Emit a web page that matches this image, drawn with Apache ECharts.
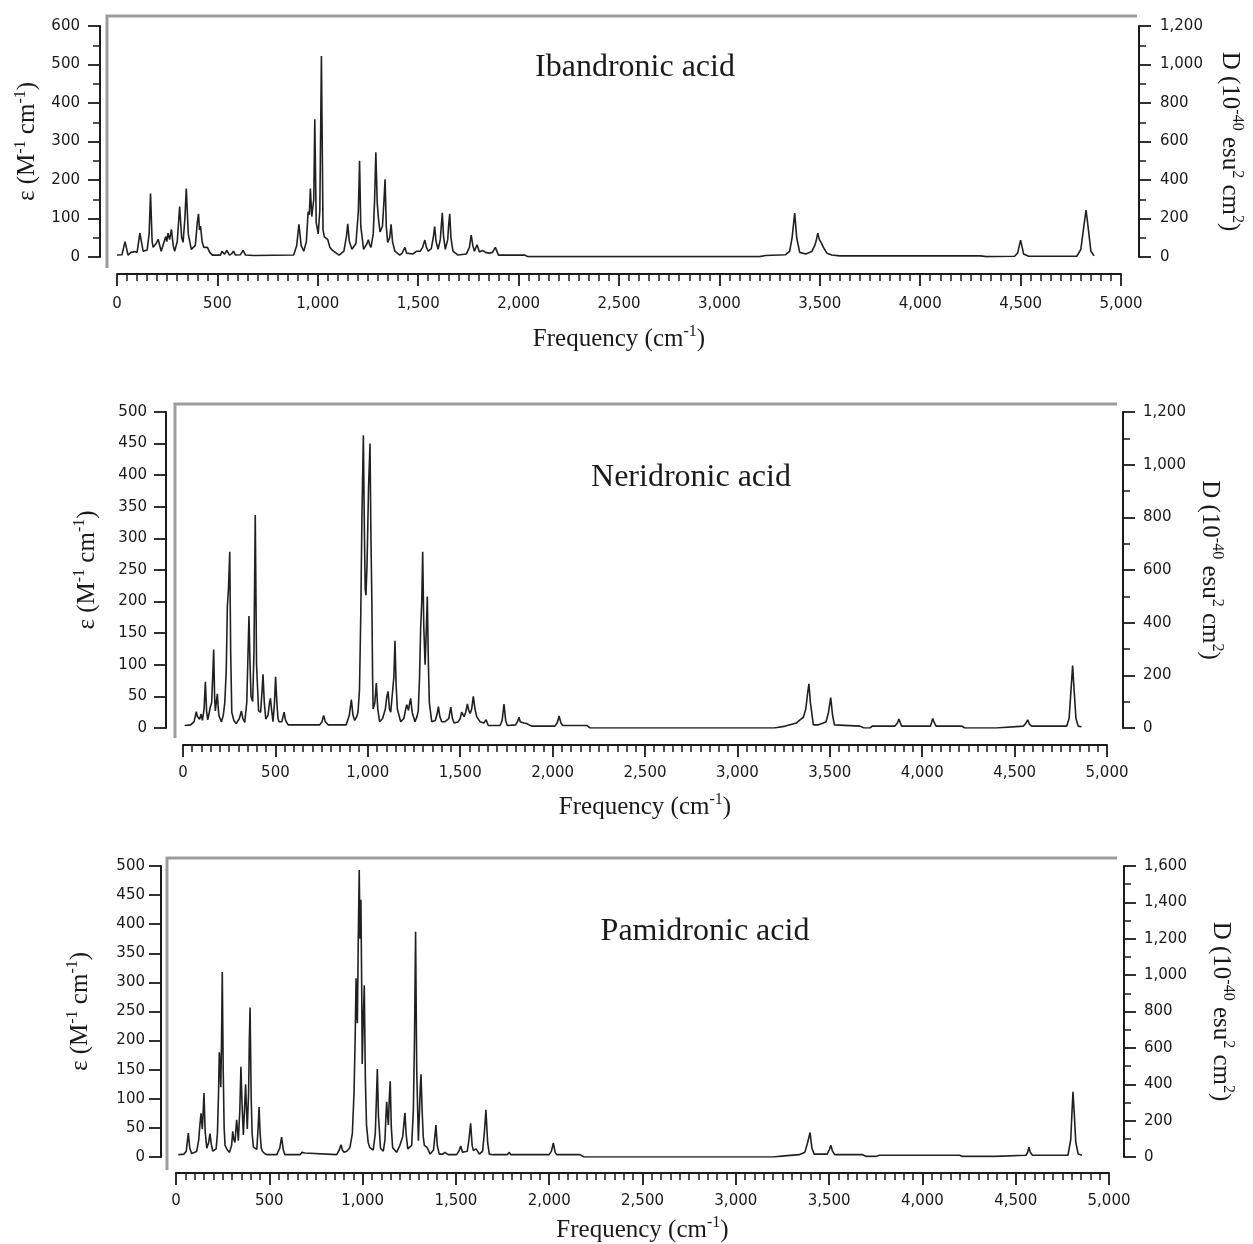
<!DOCTYPE html>
<html>
<head>
<meta charset="utf-8">
<title>IR spectra</title>
<script src="https://cdn.jsdelivr.net/npm/echarts@6/dist/echarts.min.js"></script>
<style>
  html, body { margin: 0; padding: 0; background: #fff; }
  #main { width: 1253px; height: 1244px; }
</style>
</head>
<body>
<div id="main"></div>
<script>
// spectra: [frequency cm-1, epsilon]
const ibandronic = [[0,5],[25,6],[40,40],[55,5],[70,12],[78,9],[88,14],[100,12],[114,62],[130,15],[150,18],[160,60],[167,165],[175,40],[180,25],[195,35],[205,46],[220,15],[235,40],[243,53],[248,40],[254,62],[262,45],[271,72],[280,30],[287,15],[300,40],[312,131],[322,50],[329,38],[338,100],[345,178],[355,60],[370,20],[390,30],[400,90],[406,112],[411,70],[416,80],[424,40],[432,25],[450,25],[462,12],[475,5],[515,5],[523,15],[535,7],[547,17],[560,5],[570,8],[580,15],[590,5],[615,6],[628,17],[640,5],[680,4],[880,5],[895,30],[906,85],[917,30],[930,15],[943,40],[952,118],[958,110],[963,178],[970,105],[975,100],[980,150],[985,358],[992,90],[1002,60],[1010,120],[1018,522],[1026,70],[1033,52],[1040,50],[1050,45],[1060,25],[1073,17],[1106,5],[1130,15],[1143,55],[1149,86],[1157,40],[1170,20],[1190,35],[1202,120],[1208,250],[1214,80],[1228,20],[1245,35],[1252,45],[1258,32],[1265,25],[1276,60],[1283,150],[1289,272],[1296,140],[1302,100],[1310,65],[1322,80],[1330,150],[1335,202],[1341,80],[1348,38],[1358,50],[1365,85],[1372,40],[1384,15],[1408,5],[1420,10],[1434,25],[1442,10],[1450,5],[1475,8],[1492,15],[1500,12],[1510,15],[1522,25],[1533,44],[1541,25],[1550,15],[1565,22],[1575,50],[1582,79],[1589,40],[1599,20],[1610,45],[1615,80],[1620,115],[1626,55],[1635,20],[1647,45],[1652,85],[1657,112],[1663,50],[1673,15],[1698,5],[1740,8],[1755,25],[1764,57],[1772,30],[1780,15],[1793,32],[1805,13],[1821,17],[1835,12],[1854,10],[1870,12],[1884,25],[1900,5],[2030,5],[2045,1],[3200,1],[3230,4],[3330,6],[3350,15],[3362,50],[3375,114],[3385,50],[3400,12],[3430,8],[3460,14],[3475,30],[3482,42],[3490,62],[3498,45],[3508,36],[3518,25],[3535,10],[3560,5],[3600,3],[4300,3],[4330,1],[4470,2],[4485,10],[4500,44],[4515,8],[4540,2],[4780,2],[4800,20],[4815,80],[4826,122],[4838,70],[4850,15],[4866,3]];

const neridronic = [[9,4],[42,5],[60,10],[72,26],[78,18],[84,18],[90,14],[98,22],[105,12],[114,30],[121,73],[128,25],[134,13],[147,32],[155,40],[162,90],[166,124],[171,50],[175,27],[180,40],[186,54],[190,35],[194,20],[208,10],[218,20],[226,40],[234,90],[240,192],[246,220],[253,279],[258,120],[264,25],[275,12],[288,7],[305,15],[316,27],[324,15],[334,9],[345,40],[352,120],[357,177],[362,110],[368,50],[377,42],[384,120],[391,337],[398,100],[409,27],[420,25],[428,60],[433,85],[440,40],[448,14],[460,20],[468,40],[473,47],[479,30],[487,10],[495,40],[501,81],[508,40],[514,15],[520,10],[535,10],[547,25],[555,12],[569,5],[740,5],[752,10],[761,20],[770,10],[785,5],[883,5],[900,20],[911,45],[920,20],[929,12],[940,18],[947,25],[955,60],[962,180],[968,330],[976,463],[982,300],[986,220],[990,210],[996,260],[1004,380],[1012,450],[1017,300],[1022,200],[1026,80],[1029,30],[1038,40],[1046,71],[1054,30],[1064,10],[1080,15],[1095,30],[1103,50],[1110,58],[1117,30],[1124,25],[1135,61],[1141,80],[1147,138],[1153,70],[1160,30],[1178,10],[1195,15],[1205,30],[1211,37],[1220,28],[1227,40],[1232,47],[1240,25],[1255,10],[1266,18],[1273,27],[1280,80],[1286,158],[1292,200],[1297,279],[1303,160],[1310,100],[1316,150],[1322,208],[1328,100],[1333,40],[1346,10],[1365,12],[1375,22],[1382,34],[1390,18],[1400,10],[1418,10],[1438,15],[1449,33],[1458,15],[1467,8],[1490,10],[1500,15],[1508,25],[1514,22],[1521,18],[1530,25],[1539,38],[1546,28],[1554,23],[1562,30],[1571,50],[1580,30],[1589,18],[1607,10],[1628,8],[1640,13],[1652,4],[1716,4],[1727,12],[1737,38],[1746,12],[1755,4],[1800,5],[1810,10],[1818,17],[1825,10],[1832,10],[1845,8],[1859,7],[1886,3],[2012,3],[2025,8],[2035,19],[2045,8],[2055,4],[2185,4],[2203,0],[3200,0],[3260,3],[3320,8],[3339,13],[3357,17],[3370,30],[3380,55],[3387,70],[3395,40],[3411,5],[3438,5],[3465,8],[3480,10],[3493,25],[3505,48],[3515,20],[3525,5],[3664,3],[3685,0],[3717,0],[3730,3],[3852,3],[3866,8],[3874,14],[3882,8],[3889,3],[4045,3],[4057,15],[4066,8],[4075,3],[4215,3],[4230,0],[4400,0],[4410,3],[4548,3],[4562,8],[4571,13],[4580,6],[4592,3],[4782,3],[4795,15],[4803,50],[4814,99],[4822,60],[4832,15],[4844,3],[4862,2]];

const pamidronic = [[12,4],[43,5],[55,10],[66,41],[74,15],[84,6],[100,8],[111,10],[122,30],[128,55],[134,75],[141,48],[146,80],[150,110],[156,45],[165,15],[175,25],[182,40],[189,22],[197,10],[207,12],[215,14],[222,40],[228,110],[232,180],[236,160],[240,120],[244,200],[248,318],[253,150],[258,50],[263,20],[275,12],[287,8],[298,20],[304,44],[310,30],[316,25],[325,64],[330,45],[334,28],[342,80],[348,155],[354,90],[361,38],[367,80],[373,125],[378,80],[382,48],[389,110],[393,200],[397,257],[403,100],[408,40],[415,17],[433,13],[440,50],[445,86],[451,40],[457,15],[463,10],[475,6],[486,4],[540,4],[556,15],[566,34],[575,12],[584,4],[665,4],[675,8],[682,11],[690,7],[700,4],[861,4],[875,12],[884,21],[892,12],[900,8],[915,10],[932,16],[945,40],[954,110],[960,200],[965,307],[968,250],[972,230],[977,380],[982,493],[986,375],[991,442],[995,300],[998,160],[1003,230],[1009,295],[1015,130],[1021,55],[1030,25],[1039,16],[1057,12],[1068,40],[1074,100],[1079,151],[1085,70],[1096,15],[1111,10],[1120,30],[1125,70],[1129,95],[1134,70],[1138,55],[1143,100],[1148,130],[1154,50],[1161,16],[1182,8],[1200,20],[1215,35],[1222,60],[1227,76],[1233,40],[1242,14],[1252,15],[1263,20],[1272,80],[1278,200],[1284,387],[1290,150],[1299,28],[1305,80],[1309,120],[1313,142],[1319,80],[1325,35],[1331,20],[1344,17],[1352,12],[1362,5],[1380,12],[1387,35],[1393,55],[1400,20],[1411,5],[1430,5],[1441,8],[1459,4],[1504,4],[1516,10],[1526,19],[1535,8],[1545,6],[1561,10],[1570,30],[1579,58],[1587,20],[1594,11],[1608,14],[1626,5],[1643,10],[1652,40],[1661,81],[1670,25],[1679,5],[1700,4],[1775,4],[1786,8],[1795,4],[2000,4],[2012,10],[2022,24],[2032,8],[2040,4],[2165,4],[2187,0],[3200,0],[3260,2],[3340,4],[3370,8],[3385,25],[3398,42],[3408,15],[3420,5],[3490,5],[3500,12],[3510,20],[3518,10],[3530,4],[3680,4],[3700,1],[3750,1],[3770,3],[3870,3],[3880,5],[3890,3],[4050,3],[4057,5],[4065,3],[4200,3],[4215,1],[4390,1],[4400,3],[4555,3],[4564,8],[4571,17],[4578,8],[4590,3],[4780,3],[4795,30],[4802,80],[4807,112],[4813,80],[4822,25],[4835,5],[4855,3]];

const compounds = ['Ibandronic acid', 'Neridronic acid', 'Pamidronic acid'];
const spectra = [ibandronic, neridronic, pamidronic];
const epsMax = [600, 500, 500];
const epsStep = [100, 50, 50];
const dipMax = [1200, 1200, 1600];
const dipStep = [200, 200, 200];
const freqMax = 5000;
const freqStep = 500;

// layout of each panel (pixels)
const panels = [
  { left: 117, width: 1010, top: 26, height: 231, yOff: 17, rOff: 18, xOff: 17, yGap: 56, rGap: 76, xGap: 50, yMargin: 20, rMargin: 21, xMargin: 23, epsMinor: true,
    frame: [[107, 268], [107, 16], [1137, 16]], title: [635, 68] },
  { left: 183, width: 924, top: 412, height: 316, yOff: 17, rOff: 16, xOff: 17, yGap: 64, rGap: 72, xGap: 47, yMargin: 19, rMargin: 20, xMargin: 21, epsMinor: false,
    frame: [[175, 738], [175, 404], [1117, 404]], title: [691, 478] },
  { left: 176, width: 933, top: 866, height: 295, yOff: 15, rOff: 15, xOff: 16, yGap: 66, rGap: 82, xGap: 42, yMargin: 16, rMargin: 20, xMargin: 21, epsMinor: false,
    frame: [[167, 1170], [167, 858], [1117, 858]], title: [705, 932] }
];

const ink = '#1a1a1a';
const serif = '"Liberation Serif", "DejaVu Serif", serif';
const sans = '"DejaVu Sans", sans-serif';
const comma = v => String(v).replace(/\B(?=(\d{3})+(?!\d))/g, ',');

const rich = {
  n: { fontFamily: serif, fontSize: 25, color: ink, lineHeight: 30 },
  s: { fontFamily: serif, fontSize: 16, color: ink, verticalAlign: 'top', lineHeight: 30, padding: [0, 0, 12, 0] }
};

const axisLine = { show: true, onZero: false, lineStyle: { color: ink, width: 2 } };
const tick = { show: true, inside: false, length: 12, lineStyle: { color: ink, width: 1.8 } };
const minor = n => ({ show: true, splitNumber: n, length: 7, lineStyle: { color: ink, width: 1.5 } });
const tickFont = { color: ink, fontFamily: sans, fontSize: 15, formatter: comma };

const grids = [], xAxes = [], yAxes = [], series = [], graphics = [];

panels.forEach((p, i) => {
  grids.push({ left: p.left, width: p.width, top: p.top, height: p.height });

  xAxes.push({
    type: 'value', gridIndex: i, position: 'bottom', offset: p.xOff,
    min: 0, max: freqMax, interval: freqStep,
    axisLine, axisTick: tick, minorTick: minor(10), splitLine: { show: false },
    axisLabel: Object.assign({ margin: p.xMargin }, tickFont),
    name: '{n|Frequency (cm}{s|-1}{n|)}', nameLocation: 'middle', nameGap: p.xGap,
    nameTextStyle: { rich }
  });

  yAxes.push({
    type: 'value', gridIndex: i, position: 'left', offset: p.yOff,
    min: 0, max: epsMax[i], interval: epsStep[i],
    axisLine, axisTick: tick, minorTick: p.epsMinor ? minor(2) : { show: false },
    splitLine: { show: false },
    axisLabel: Object.assign({ margin: p.yMargin }, tickFont),
    name: '{n|ε (M}{s|-1}{n| cm}{s|-1}{n|)}', nameLocation: 'middle', nameGap: p.yGap, nameRotate: 90,
    nameTextStyle: { rich }
  });

  yAxes.push({
    type: 'value', gridIndex: i, position: 'right', offset: p.rOff,
    min: 0, max: dipMax[i], interval: dipStep[i],
    axisLine, axisTick: tick, minorTick: minor(2), splitLine: { show: false },
    axisLabel: Object.assign({ margin: p.rMargin }, tickFont),
    name: '{n|D (10}{s|-40}{n| esu}{s|2}{n| cm}{s|2}{n|)}', nameLocation: 'middle', nameGap: p.rGap, nameRotate: -90,
    nameTextStyle: { rich }
  });

  series.push({
    name: compounds[i], type: 'line', xAxisIndex: i, yAxisIndex: i * 2,
    data: spectra[i], showSymbol: false, smooth: false, animation: false,
    lineStyle: { color: '#202020', width: 1.6 }
  });

  graphics.push({
    type: 'polyline', silent: true,
    shape: { points: p.frame },
    style: { stroke: '#9c9c9c', lineWidth: 3, fill: null }
  });
  graphics.push({
    type: 'text', x: p.title[0], y: p.title[1],
    style: { text: compounds[i], font: '32px ' + serif, fill: ink, align: 'center', verticalAlign: 'middle' }
  });
});

const chart = echarts.init(document.getElementById('main'), null, { renderer: 'canvas' });
chart.setOption({
  animation: false,
  backgroundColor: '#fff',
  grid: grids,
  xAxis: xAxes,
  yAxis: yAxes,
  series,
  graphic: graphics
});
</script>
</body>
</html>
